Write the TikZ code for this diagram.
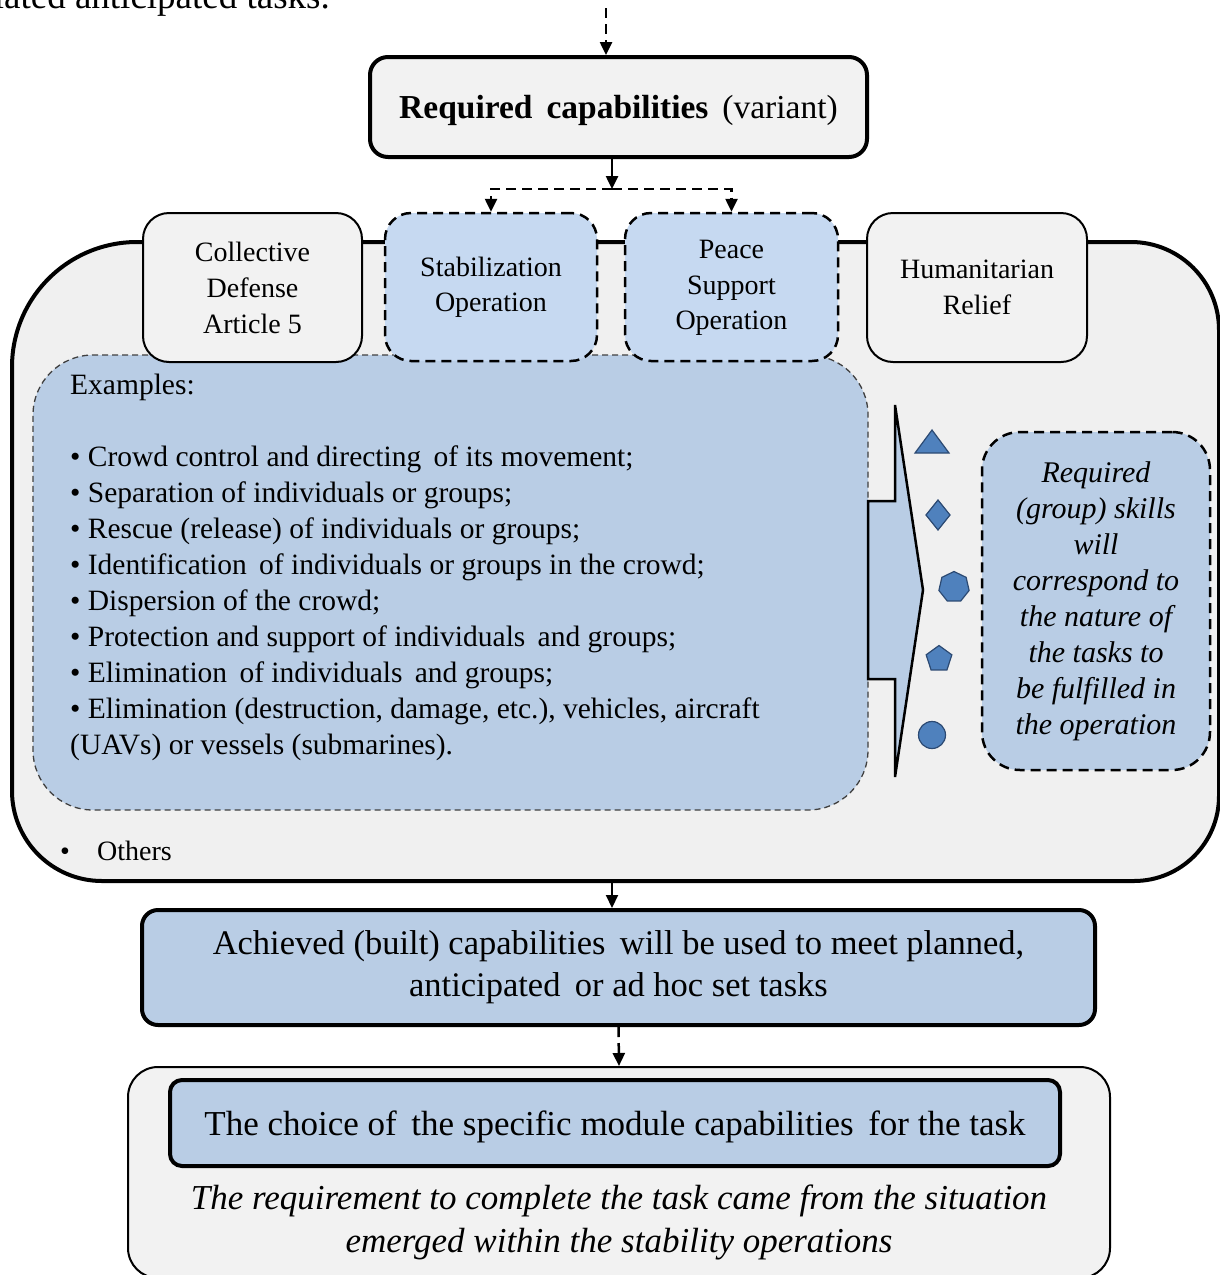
\documentclass[tikz,border=0pt]{standalone}
\usepackage{fontspec}
\setmainfont{Liberation Serif}
\usetikzlibrary{arrows.meta,shapes.geometric}
\definecolor{boxgray}{HTML}{F2F2F2}
\definecolor{contgray}{HTML}{F0F0F0}
\definecolor{tabblue}{HTML}{C6D9F1}
\definecolor{exblue}{HTML}{B9CDE5}
\definecolor{shapeblue}{HTML}{4F81BD}
\definecolor{shapeedge}{HTML}{2C4A73}
\begin{document}
\begin{tikzpicture}[x=1pt,y=-1pt,
  tip/.style={-{Triangle[width=12pt,length=13pt]}},
  dsh/.style={line width=2.5pt, dash pattern=on 10pt off 6pt},
  txt/.style={font=\fontsize{28}{36}\selectfont, align=center, inner sep=0pt},
  tabgray/.style={draw=black, line width=2pt, fill=boxgray, rounded corners=26pt, minimum height=149pt, txt},
  tabblue/.style={draw=black, dsh, fill=tabblue, rounded corners=26pt, minimum height=148pt, txt},
  bluebox/.style={draw=black, line width=4pt, fill=exblue, align=center, inner sep=0pt},
  shp/.style={fill=shapeblue, draw=shapeedge, line width=1.2pt, inner sep=0pt}
]
\useasboundingbox (0,0) rectangle (1219,1275);
\fill[white] (0,0) rectangle (1219,1275);

% cropped line of text at the very top
\begin{scope}
\clip (0,0) rectangle (1219,1275);
\node[anchor=base east, font=\fontsize{37}{40}\selectfont, inner sep=0pt] (toptxt) at (330,8) {lated anticipated tasks.};
\end{scope}

% required capabilities
\node[draw=black, line width=4pt, fill=boxgray, rounded corners=18pt, minimum width=497pt, minimum height=100pt, text depth=0pt, font=\fontsize{33.5}{38}\selectfont] (req) at (618.5,107) {\textbf{Required\, capabilities}\, (variant)};
\coordinate (topin) at (606,8);
\draw[dsh, tip] (topin) -- (topin |- req.north);

% big container
\draw[fill=contgray, line width=4pt] (12,367) arc (180:270:125) -- (1131,242) arc (270:360:88) -- (1219,796) arc (0:90:85) -- (102,881) arc (90:180:90) -- cycle;
\coordinate (cb) at (612,881);

% examples box
\node[draw=black!75, fill=exblue, line width=1.3pt, dash pattern=on 6pt off 4pt, rounded corners=60pt, minimum width=835pt, minimum height=455pt] (ex) at (450.5,582.5) {};
\node[anchor=base west, font=\fontsize{29.5}{36}\selectfont, align=left, inner sep=0pt] (extxt) at (70,754) {Examples:\\[36pt]
• Crowd control and directing\, of its movement;\\
• Separation of individuals or groups;\\
• Rescue (release) of individuals or groups;\\
• Identification\, of individuals or groups in the crowd;\\
• Dispersion of the crowd;\\
• Protection and support of individuals\, and groups;\\
• Elimination\, of individuals\, and groups;\\
• Elimination (destruction, damage, etc.), vehicles, aircraft\\
(UAVs) or vessels (submarines).};

% tabs
\node[tabgray, minimum width=219pt] (coll) at (252.5,287.5) {Collective\\Defense\\Article 5};
\node[tabblue, minimum width=212pt] (stab) at (491,287) {\raisebox{-4pt}{\begin{tabular}{@{}c@{}}Stabilization\\[-0.5pt]Operation\end{tabular}}};
\node[tabblue, minimum width=213pt] (peace) at (731.5,287) {\raisebox{-4pt}{\begin{tabular}{@{}c@{}}Peace\\[-0.5pt]Support\\[-0.5pt]Operation\end{tabular}}};
\node[tabgray, minimum width=220pt] (hum) at (977,287.5) {Humanitarian\\Relief};

% connectors from required capabilities
\coordinate (j) at (612,189);
\draw[line width=2.5pt, tip] (req.south -| j) -- (j);
\draw[dsh, tip] (j) -- (j -| stab.north) -- (stab.north);
\draw[dsh, tip] (j) -- (j -| peace.north) -- (peace.north);

% block arrow
\draw[fill=exblue, line width=2.5pt, line join=miter] (868,501) -- (895,501) -- (895,405) -- (923,590) -- (895,777) -- (895,679) -- (868,679) -- cycle;

% shapes
\draw[shp] (915,453) -- (932,430) -- (949,453) -- cycle;
\draw[shp] (938,500) -- (950,515) -- (938,530) -- (926,515) -- cycle;
\node[shp, regular polygon, regular polygon sides=7, minimum size=31pt] (hept) at (954,587) {};
\node[shp, regular polygon, regular polygon sides=5, minimum size=27pt] (pent) at (939,659) {};
\node[shp, circle, minimum size=27pt] (circ) at (932,735) {};

% skills box
\node[draw=black, dsh, fill=exblue, rounded corners=38pt, minimum width=228pt, minimum height=338pt, font=\fontsize{30}{36}\selectfont\itshape, align=center, inner sep=0pt] (skills) at (1096,601) {Required\\(group) skills\\will\\correspond to\\the nature of\\the tasks to\\be fulfilled in\\the operation};

% others
\node[anchor=base west, font=\fontsize{28}{36}\selectfont, inner sep=0pt] (others) at (60,860) {\makebox[37pt][l]{•}Others};

% achieved
\node[bluebox, rounded corners=16pt, minimum width=953pt, minimum height=115pt, font=\fontsize{34.5}{42}\selectfont] (ach) at (618.5,967.5) {\raisebox{-4pt}{\begin{tabular}{@{}c@{}}Achieved (built) capabilities\, will be used to meet planned,\\[0pt]anticipated\, or ad hoc set tasks\end{tabular}}};
\draw[line width=2pt, tip] (cb) -- (cb |- ach.north);

% bottom container
\node[draw=black, line width=2pt, fill=boxgray, rounded corners=30pt, minimum width=982pt, minimum height=211pt] (bot) at (619,1172.5) {};
\draw[dsh, tip] (ach.south) -- (bot.north);
\node[bluebox, rounded corners=12pt, minimum width=890pt, minimum height=86pt, text depth=0pt, font=\fontsize{35}{40}\selectfont] (choice) at (615,1123) {The choice of\, the specific module capabilities\, for the task};
\node[font=\fontsize{35}{43}\selectfont\itshape, align=center, inner sep=0pt] (reqtxt) at (619,1222) {The requirement to complete the task came from the situation\\emerged within the stability operations};
\end{tikzpicture}
\end{document}
